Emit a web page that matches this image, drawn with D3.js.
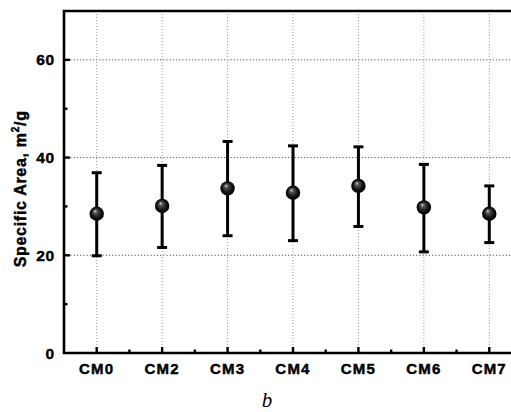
<!DOCTYPE html>
<html lang="en">
<head>
    <meta charset="UTF-8">
    <script src="https://d3js.org/d3.v7.min.js"></script>
    <title>Specific Area</title>
    <style>
        body {
            margin: 0;
            background: #fff;
        }
        .lbl {
            font-family: 'Liberation Sans', Arial, sans-serif;
            font-weight: bold;
            fill: #000;
            stroke: #000;
            stroke-width: 0.45px;
        }
        .grid line {
            stroke: #555;
            stroke-dasharray: 1.2 2;
        }
        .vgrid line {
            stroke: #999;
            stroke-dasharray: 1 2;
        }
    </style>
</head>
<body>
    <svg width="511" height="412"></svg>
    <script>
        // Data
        const samples = ["CM0", "CM2", "CM3", "CM4", "CM5", "CM6", "CM7"];
        const meanArea = [28.5, 30.1, 33.7, 32.8, 34.2, 29.8, 28.5];
        const upperArea = [36.9, 38.4, 43.3, 42.4, 42.2, 38.6, 34.2];
        const lowerArea = [19.9, 21.6, 24.0, 23.0, 25.9, 20.7, 22.6];
        const yTicks = [0, 20, 40, 60];
        const yMinorTicks = [10, 30, 50];

        const width = 511, height = 412;
        const margin = { top: 11, left: 64, bottom: 59 };
        const plotRight = 522; // frame runs past the picture edge

        const svg = d3.select("svg");

        const defs = svg.append("defs");
        const ball = defs.append("radialGradient")
            .attr("id", "ball")
            .attr("cx", "50%").attr("cy", "50%").attr("r", "50%")
            .attr("fx", "38%").attr("fy", "30%");
        ball.append("stop").attr("offset", "0%").attr("stop-color", "#d8d8d8");
        ball.append("stop").attr("offset", "25%").attr("stop-color", "#555");
        ball.append("stop").attr("offset", "70%").attr("stop-color", "#111");
        ball.append("stop").attr("offset", "100%").attr("stop-color", "#000");

        const x = d3.scaleLinear()
            .domain([-0.5, samples.length - 0.5])
            .range([margin.left, plotRight]);

        const y = d3.scaleLinear()
            .domain([0, 70])
            .range([height - margin.bottom, margin.top]);

        const x0 = x(-0.5), yBase = y(0), yTop = y(70);

        // horizontal grid
        svg.append("g")
            .attr("class", "grid")
            .selectAll("line")
            .data(yTicks.filter(d => d > 0))
            .join("line")
            .attr("x1", x0).attr("x2", width)
            .attr("y1", d => y(d)).attr("y2", d => y(d));

        // vertical grid
        svg.append("g")
            .attr("class", "vgrid")
            .selectAll("line")
            .data(samples.map((d, i) => i))
            .join("line")
            .attr("x1", d => x(d)).attr("x2", d => x(d))
            .attr("y1", yTop).attr("y2", yBase);

        // frame
        svg.append("path")
            .attr("d", `M${width + 2},${yTop}H${x0}V${yBase}H${width + 2}`)
            .attr("fill", "none")
            .attr("stroke", "#000")
            .attr("stroke-width", 2.6);

        // y ticks (inward)
        svg.append("g").selectAll("line")
            .data(yTicks.filter(d => d > 0))
            .join("line")
            .attr("x1", x0).attr("x2", x0 + 6)
            .attr("y1", d => y(d)).attr("y2", d => y(d))
            .attr("stroke", "#000").attr("stroke-width", 2.4);
        svg.append("g").selectAll("line")
            .data(yMinorTicks)
            .join("line")
            .attr("x1", x0).attr("x2", x0 + 3.5)
            .attr("y1", d => y(d)).attr("y2", d => y(d))
            .attr("stroke", "#000").attr("stroke-width", 2.4);

        svg.append("g").selectAll("text")
            .data(yTicks)
            .join("text")
            .attr("class", "lbl")
            .attr("x", x0 - 9)
            .attr("y", d => y(d) + 5.5)
            .attr("text-anchor", "end")
            .attr("font-size", 15.5)
            .attr("letter-spacing", 0.8)
            .text(d => d);

        // x ticks (inward)
        svg.append("g").selectAll("line")
            .data(samples.map((d, i) => i))
            .join("line")
            .attr("x1", d => x(d)).attr("x2", d => x(d))
            .attr("y1", yBase).attr("y2", yBase - 6)
            .attr("stroke", "#000").attr("stroke-width", 2.4);
        svg.append("g").selectAll("line")
            .data(samples.slice(1).map((d, i) => i + 0.5))
            .join("line")
            .attr("x1", d => x(d)).attr("x2", d => x(d))
            .attr("y1", yBase).attr("y2", yBase - 3.5)
            .attr("stroke", "#000").attr("stroke-width", 2.4);

        svg.append("g").selectAll("text")
            .data(samples)
            .join("text")
            .attr("class", "lbl")
            .attr("x", (d, i) => x(i))
            .attr("y", yBase + 21)
            .attr("text-anchor", "middle")
            .attr("font-size", 15)
            .attr("letter-spacing", 1.2)
            .text(d => d);

        // y label
        const yl = svg.append("text")
            .attr("class", "lbl")
            .attr("transform", `translate(26,${y(33.6)}) rotate(-90)`)
            .attr("text-anchor", "middle")
            .attr("font-size", 16)
            .attr("letter-spacing", 0.7);
        yl.append("tspan").text("Specific Area, m");
        yl.append("tspan").attr("font-size", 10).attr("dy", -7).text("2");
        yl.append("tspan").attr("dy", 7).text("/g");

        // error bars
        const bars = svg.append("g");
        samples.forEach((s, i) => {
            const cx = x(i);
            bars.append("line")
                .attr("x1", cx).attr("x2", cx)
                .attr("y1", y(upperArea[i])).attr("y2", y(lowerArea[i]))
                .attr("stroke", "#000").attr("stroke-width", 3);
            [upperArea[i], lowerArea[i]].forEach(v => {
                bars.append("line")
                    .attr("x1", cx - 5).attr("x2", cx + 5)
                    .attr("y1", y(v)).attr("y2", y(v))
                    .attr("stroke", "#000").attr("stroke-width", 3);
            });
        });

        svg.append("g").selectAll("circle")
            .data(meanArea)
            .join("circle")
            .attr("cx", (d, i) => x(i))
            .attr("cy", d => y(d))
            .attr("r", 7.2)
            .attr("fill", "url(#ball)");

        // caption
        svg.append("text")
            .attr("x", 267)
            .attr("y", 407)
            .attr("text-anchor", "middle")
            .attr("font-family", "'Liberation Serif', 'Times New Roman', serif")
            .attr("font-style", "italic")
            .attr("font-size", 21)
            .text("b");
    </script>
</body>
</html>
